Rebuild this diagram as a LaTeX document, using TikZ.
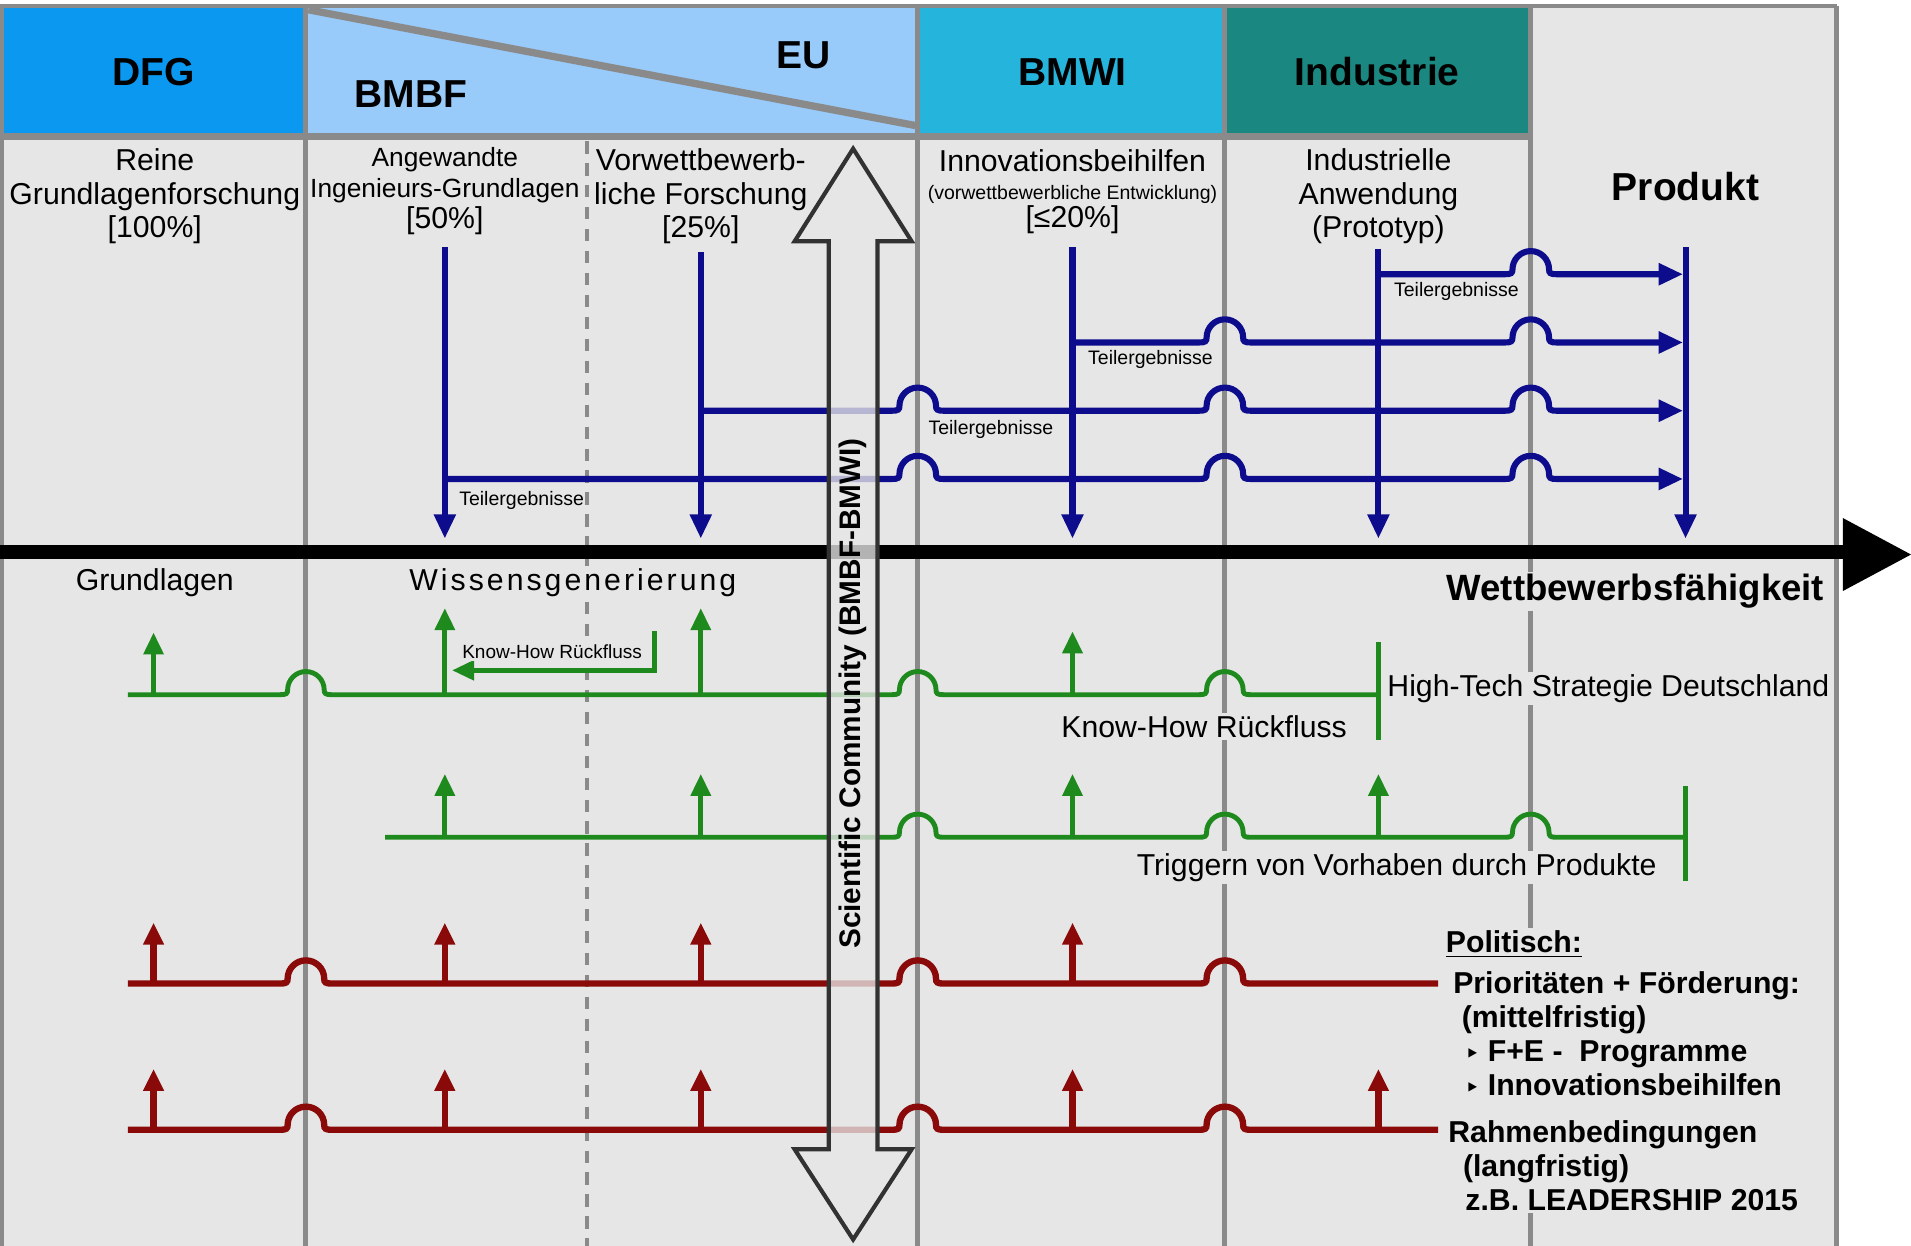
\documentclass[tikz,border=0pt]{standalone}
\usepackage{fontspec}
\setmainfont{Liberation Sans}
\newfontfamily\symfont{DejaVu Sans}
\usetikzlibrary{arrows.meta}

\definecolor{bggray}{RGB}{230,230,230}
\definecolor{divgray}{RGB}{138,138,138}
\definecolor{dfgblue}{RGB}{10,152,240}
\definecolor{bmbfblue}{RGB}{152,202,250}
\definecolor{bmwicyan}{RGB}{36,180,220}
\definecolor{indteal}{RGB}{26,136,128}
\definecolor{navy}{RGB}{12,12,140}
\definecolor{fgreen}{RGB}{30,138,30}
\definecolor{dred}{RGB}{138,10,10}
\definecolor{arrowgray}{RGB}{50,50,50}

% line hop over a divider at x=#1, line height y=#2
\newcommand{\hopover}[2]{-- ({#1-21},#2) .. controls ({#1-16},#2) and ({#1-15},{#2-1}) .. ({#1-15},{#2-4}) .. controls ({#1-15},{#2-12.3}) and ({#1-8.3},{#2-19}) .. (#1,{#2-19}) .. controls ({#1+8.3},{#2-19}) and ({#1+15},{#2-12.3}) .. ({#1+15},{#2-4}) .. controls ({#1+15},{#2-1}) and ({#1+16},#2) .. ({#1+21},#2)}

\begin{document}
\begin{tikzpicture}[x=0.5pt,y=0.5pt,yscale=-1,
  divider/.style={draw=divgray,line width=2pt},
  bline/.style={draw=navy,line width=2.5pt},
  gline/.style={draw=fgreen,line width=2pt},
  rline/.style={draw=dred,line width=2.6pt},
  btip/.style={-{Triangle[length=10pt,width=8.5pt]}},
  gtip/.style={-{Triangle[length=9pt,width=8pt]}},
  lbl/.style={font=\fontsize{12.4}{13.75}\selectfont,inner sep=0.75pt,align=center},
  hdr/.style={font=\fontsize{16}{19}\selectfont\bfseries,inner sep=0.75pt},
  tinylbl/.style={font=\fontsize{8}{9.6}\selectfont,inner sep=0.75pt},
  mask/.style={fill=bggray,inner sep=1pt}
]
\useasboundingbox (0,0) rectangle (1568,1022);

%Background
\fill[bggray] (0,5) rectangle (1508,1022);

%Header cells
\filldraw[fill=dfgblue,draw=divgray,line width=1.5pt] (1,5) rectangle (251,112);
\filldraw[fill=bmbfblue,draw=divgray,line width=1.5pt] (251,5) rectangle (753,112);
\filldraw[fill=bmwicyan,draw=divgray,line width=1.5pt] (753,5) rectangle (1005,112);
\filldraw[fill=indteal,draw=divgray,line width=1.5pt] (1005,5) rectangle (1256,112);
\draw[divgray,line width=1.5pt] (1256,5) -- (1507,5);
\draw[divgray,line width=2.5pt] (1,112) -- (1256,112);
%Straight Lines (BMBF / EU split)
\draw[divgray,line width=3pt] (253,8) -- (751,103);

%Column dividers
\foreach \dx in {1,251,753,1005,1256,1507}
  \draw[divider] (\dx,5) -- (\dx,1022);
\draw[divgray,line width=1.6pt,dash pattern=on 5pt off 4pt] (482,116) -- (482,1022);

%Main axis
\fill[black] (0,447) rectangle (1515,459);
\fill[black] (1512,425) -- (1568,455) -- (1512,485) -- cycle;

%Teilergebnisse (blue)
\foreach \bx/\by in {365/203,575/207,880/203,1131/204,1383/203}
  \draw[bline,btip] (\bx,\by) -- (\bx,442);
\draw[bline,btip] (365,393) \hopover{753}{393} \hopover{1005}{393} \hopover{1256}{393} -- (1381,393);
\draw[bline,btip] (575,337) \hopover{753}{337} \hopover{1005}{337} \hopover{1256}{337} -- (1381,337);
\draw[bline,btip] (880,281) \hopover{1005}{281} \hopover{1256}{281} -- (1381,281);
\draw[bline,btip] (1131,225) \hopover{1256}{225} -- (1381,225);

%Know-How (green)
\draw[gline] (105,570) \hopover{251}{570} \hopover{753}{570} \hopover{1005}{570} -- (1131,570);
\draw[gline] (1131,527) -- (1131,607);
\foreach \gx/\gy in {126/519,365/499,575/499,880/518}
  \draw[gline,gtip] (\gx,570) -- (\gx,\gy);
\draw[gline,line width=1.8pt,gtip] (537,518) -- (537,550) -- (371,550);

\draw[gline] (316,687) \hopover{753}{687} \hopover{1005}{687} \hopover{1256}{687} -- (1383,687);
\draw[gline] (1383,645) -- (1383,723);
\foreach \gx in {365,575,880,1131}
  \draw[gline,gtip] (\gx,687) -- (\gx,635);

%Politisch (red)
\foreach \ry in {807,927}
  \draw[rline] (105,\ry) \hopover{251}{\ry} \hopover{753}{\ry} \hopover{1005}{\ry} -- (1180,\ry);
\foreach \rx in {126,365,575,880}
  \draw[rline,gtip] (\rx,807) -- (\rx,757);
\foreach \rx in {126,365,575,880,1131}
  \draw[rline,gtip] (\rx,927) -- (\rx,877);

%Scientific Community double arrow
\draw[draw=arrowgray,line width=1.7pt,fill=bggray,fill opacity=0.78,line join=miter]
  (700,122) -- (748,198) -- (720,198) -- (720,943) -- (748,943) -- (700,1017)
  -- (652,943) -- (680,943) -- (680,198) -- (652,198) -- cycle;

% Text Node
\draw (126,59) node [hdr] (dfg) {DFG};
% Text Node
\draw (337,77) node [hdr] (bmbf) {BMBF};
% Text Node
\draw (659,45) node [hdr] (eu) {EU};
% Text Node
\draw (880,59) node [hdr] (bmwi) {BMWI};
% Text Node
\draw (1130,59) node [hdr] (industrie) {Industrie};
% Text Node
\draw (1383,153) node [hdr] (produkt) {Produkt};

% Text Node
\draw (127,161) node [lbl] (reine) {Reine\\Grundlagenforschung\\{[100\%]}};
% Text Node
\draw (365,157) node [lbl,font=\fontsize{10.8}{12.8}\selectfont] (angew) {Angewandte\\Ingenieurs-Grundlagen\\{\fontsize{12.4}{12.8}\selectfont[50\%]}};
% Text Node
\draw (575,161) node [lbl] (vorwett) {Vorwettbewerb-\\liche Forschung\\{[25\%]}};
% Text Node
\draw (880,157) node [lbl,font=\fontsize{12.4}{11.5}\selectfont] (innov) {Innovationsbeihilfen\\{\fontsize{8}{9}\selectfont(vorwettbewerbliche Entwicklung)}\\{[≤20\%]}};
% Text Node
\draw (1131,161) node [lbl] (indanw) {Industrielle\\Anwendung\\(Prototyp)};

% Text Node
\draw (428,411) node [tinylbl] (teil1) {Teilergebnisse};
% Text Node
\draw (813,352) node [tinylbl] (teil2) {Teilergebnisse};
% Text Node
\draw (944,295) node [tinylbl] (teil3) {Teilergebnisse};
% Text Node
\draw (1195,239) node [tinylbl] (teil4) {Teilergebnisse};

% Text Node
\draw (127,478) node [lbl] (grundl) {Grundlagen};
% Text Node
\draw (470,478) node [lbl,mask] (wissen) {\addfontfeatures{LetterSpace=10}Wissensgenerierung};
% Text Node
\draw (1499,485) node [anchor=east,mask,font=\fontsize{15}{18}\selectfont\bfseries] (wett) {Wettbewerbsfähigkeit};
% Text Node
\draw (453,535) node [tinylbl,mask,font=\fontsize{7.8}{9}\selectfont] (khsmall) {Know-How Rückfluss};
% Text Node
\draw (1136,565) node [lbl,mask,anchor=west] (hightech) {High-Tech Strategie Deutschland};
% Text Node
\draw (988,596) node [lbl,mask] (khback) {Know-How Rückfluss};
% Text Node
\draw (1146,712) node [lbl,mask] (trigger) {Triggern von Vorhaben durch Produkte};

% Text Node
\draw (1184,761) node [anchor=north west,mask,align=left,font=\fontsize{12.4}{13.9}\selectfont\bfseries] (politik)
  {\underline{Politisch:}\\[3pt]
   \hspace*{3pt}Prioritäten + Förderung:\\
   \hspace*{6.5pt}(mittelfristig)\\
   \hspace*{8pt}{\symfont\fontsize{9}{9}\selectfont ‣} F+E -\ \ Programme\\
   \hspace*{8pt}{\symfont\fontsize{9}{9}\selectfont ‣} Innovationsbeihilfen\\[5.5pt]
   \hspace*{1pt}Rahmenbedingungen\\
   \hspace*{7pt}(langfristig)\\
   \hspace*{8pt}z.B. LEADERSHIP 2015};

% Text Node
\draw (700,569) node [rotate=90,inner sep=0.75pt,font=\fontsize{12.2}{14}\selectfont\bfseries] (scicom) {Scientific Community (BMBF-BMWI)};

\end{tikzpicture}
\end{document}
